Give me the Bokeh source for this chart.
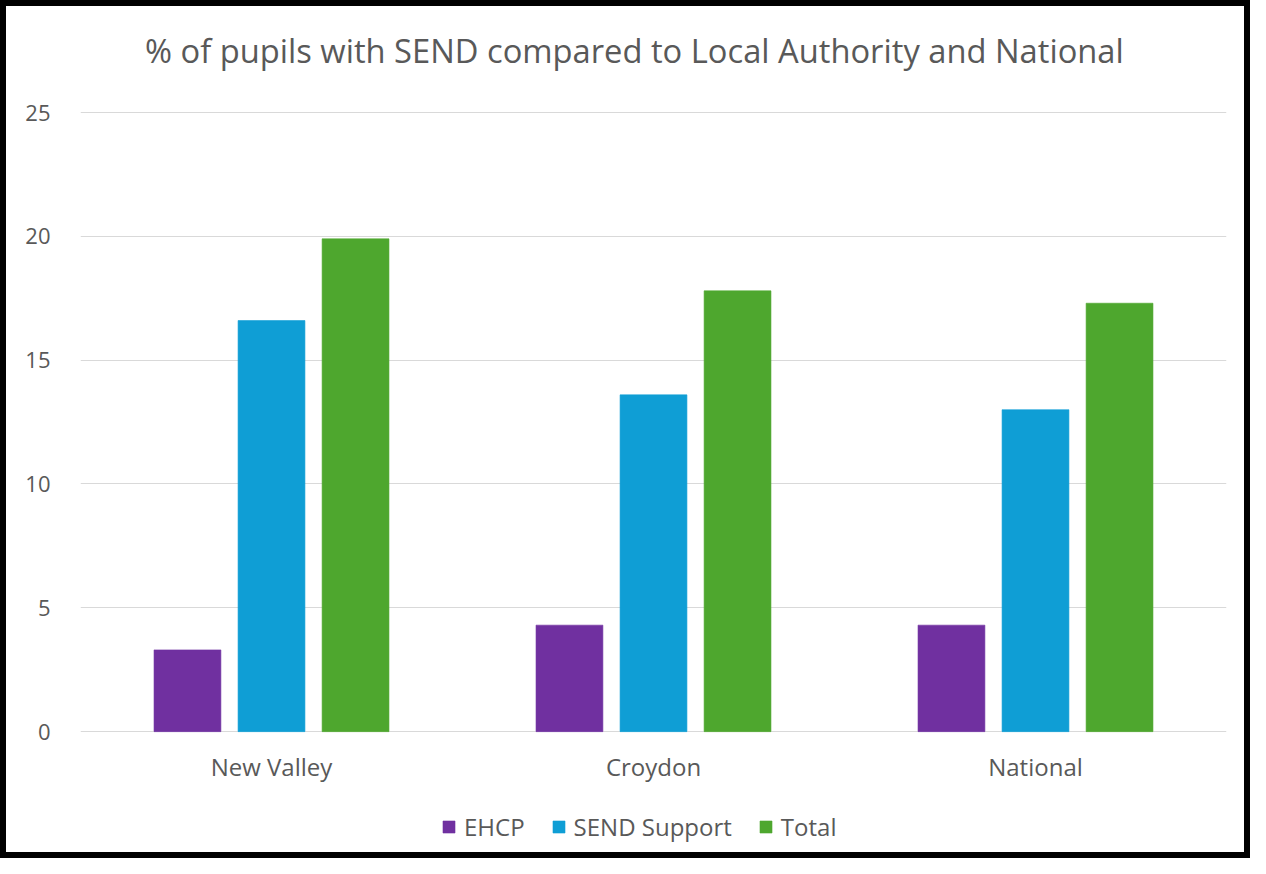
from bokeh.plotting import figure
from bokeh.models import ColumnDataSource, FactorRange, Legend, LegendItem, Range1d
from bokeh.core.properties import value
from bokeh.transform import dodge
from bokeh.embed import file_html
from bokeh.resources import INLINE

categories = ["New Valley", "Croydon", "National"]
ehcp = [3.3, 4.3, 4.3]
send_support = [16.6, 13.6, 13.0]
total = [19.9, 17.8, 17.3]
series_names = ["EHCP", "SEND Support", "Total"]
series_keys = ["ehcp", "send", "total"]
colors = ["#7030A0", "#0F9ED5", "#4EA72E"]
y_ticks = [0, 5, 10, 15, 20, 25]
title_text = "% of pupils with SEND compared to Local Authority and National"

source = ColumnDataSource(dict(cat=categories, ehcp=ehcp, send=send_support, total=total))

FONT = "Open Sans"
GREY = "#595959"

# the frame extends below zero and above 25 so the labels, legend and title sit inside it
Y_BOTTOM = -4.8
Y_TOP = 29.04
LABEL_Y = -1.42
TITLE_Y = 27.5
TITLE_X = 1.45

p = figure(x_range=FactorRange(*categories, range_padding=0), y_range=Range1d(Y_BOTTOM, Y_TOP),
           width=1250, height=858, output_backend="svg", toolbar_location=None,
           min_border_left=74, min_border_right=30, min_border_top=6, min_border_bottom=14)
p.styles = {"border": "6px solid black"}
p.outline_line_color = None

offsets = [-0.22, 0.0, 0.22]
renderers = []
for key, off, col in zip(series_keys, offsets, colors):
    r = p.vbar(x=dodge("cat", off, range=p.x_range), top=key, bottom=0, width=0.175, source=source,
               fill_color=col, line_color=col, line_alpha=0.6)
    renderers.append(r)

# title
p.text(x=[TITLE_X], y=[TITLE_Y], text=[title_text],
       text_font=value(FONT), text_font_size=value("32.7px"), text_color=GREY,
       text_align="center", text_baseline="middle")

# category labels
p.text(x=categories, y=[LABEL_Y] * len(categories), text=categories,
       text_font=value(FONT), text_font_size=value("24px"), text_color=GREY,
       text_align="center", text_baseline="middle")

legend = Legend(items=[LegendItem(label=n, renderers=[r]) for n, r in zip(series_names, renderers)],
                orientation="horizontal", location=(361, 7), border_line_color=None,
                background_fill_alpha=0,
                label_text_font=FONT, label_text_font_size="24px", label_text_color=GREY,
                glyph_width=15, glyph_height=15, spacing=26, label_standoff=8,
                margin=0, padding=0)
p.add_layout(legend, "center")

p.yaxis.ticker = y_ticks
p.yaxis.axis_line_color = None
p.yaxis.major_tick_line_color = None
p.yaxis.minor_tick_line_color = None
p.yaxis.major_label_text_font = FONT
p.yaxis.major_label_text_font_size = "22px"
p.yaxis.major_label_text_color = GREY
p.yaxis.major_label_standoff = 24

p.xaxis.visible = False

p.xgrid.grid_line_color = None
p.ygrid.grid_line_color = "#D9D9D9"
p.ygrid.grid_line_width = 1

open("out.html", "w").write(file_html(p, INLINE))
